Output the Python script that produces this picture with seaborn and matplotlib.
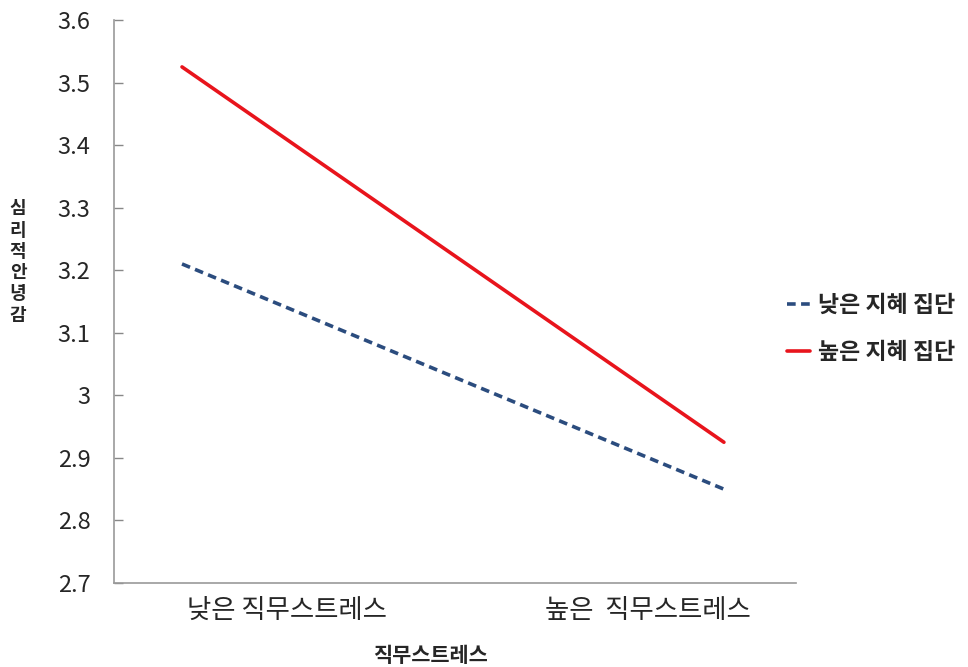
import matplotlib
matplotlib.use("Agg")
import matplotlib.pyplot as plt
import seaborn as sns
import pandas as pd
from matplotlib.ticker import FuncFormatter

# ---- data ----
categories = ["낮은 직무스트레스", "높은  직무스트레스"]
x_pos = [0, 1]
series_names = ["낮은 지혜 집단", "높은 지혜 집단"]
low_wisdom = [3.21, 2.85]
high_wisdom = [3.525, 2.925]
y_ticks = [2.7, 2.8, 2.9, 3.0, 3.1, 3.2, 3.3, 3.4, 3.5, 3.6]
y_title = "심리적안녕감"
x_title = "직무스트레스"

df = pd.DataFrame({
    "x": x_pos * 2,
    "value": low_wisdom + high_wisdom,
    "group": [series_names[0]] * 2 + [series_names[1]] * 2,
})

sns.set_style("white")
plt.rcParams["font.family"] = ["Noto Sans CJK KR", "DejaVu Sans"]

fig = plt.figure(figsize=(9.68, 6.67), dpi=100)
ax = fig.add_axes([114 / 968, 1 - 583 / 667, (796 - 114) / 968, (583 - 20) / 667])

palette = {series_names[0]: "#2B4C7E", series_names[1]: "#E8141C"}
dashes = {series_names[0]: (2.4, 1.5), series_names[1]: ""}
sns.lineplot(data=df, x="x", y="value", hue="group", style="group",
             palette=palette, dashes=dashes, linewidth=2.6, ax=ax,
             hue_order=series_names, style_order=series_names)

ax.set_ylim(2.7, 3.6)
ax.set_xlim(-0.1255, 1.133)
ax.set_yticks(y_ticks)
ax.yaxis.set_major_formatter(FuncFormatter(lambda v, p: f"{v:g}"))
ax.tick_params(axis="y", direction="in", length=6.5, width=1, color="#888888",
               labelsize=17, pad=17, left=True)
# category label positions (as shown in the reference)
ax.set_xticks([0.194, 0.860])
ax.set_xticklabels(categories)
ax.tick_params(axis="x", length=0, labelsize=19, pad=10)

for s in ["top", "right"]:
    ax.spines[s].set_visible(False)
for s in ["left", "bottom"]:
    ax.spines[s].set_color("#999999")
    ax.spines[s].set_linewidth(1.2)

ax.set_xlabel("")
ax.set_ylabel("")
fig.text(431 / 968, 1 - 655 / 667, x_title, fontsize=15, fontweight="bold",
         ha="center", va="center")
# vertical (stacked) y-axis title, one character per line
for i, ch in enumerate(y_title):
    fig.text(18 / 968, 1 - (209 + 21.2 * i) / 667, ch, fontsize=13,
             fontweight="bold", ha="center", va="center")

handles, labels = ax.get_legend_handles_labels()
ax.legend(handles, labels, loc="center left", bbox_to_anchor=(787 / 968, 1 - 329 / 667),
          bbox_transform=fig.transFigure, frameon=False, borderpad=0, borderaxespad=0,
          prop={"size": 16.5, "weight": "bold"}, handlelength=1.0,
          handletextpad=0.35, labelspacing=1.05)

fig.savefig("out.png", dpi=100)
